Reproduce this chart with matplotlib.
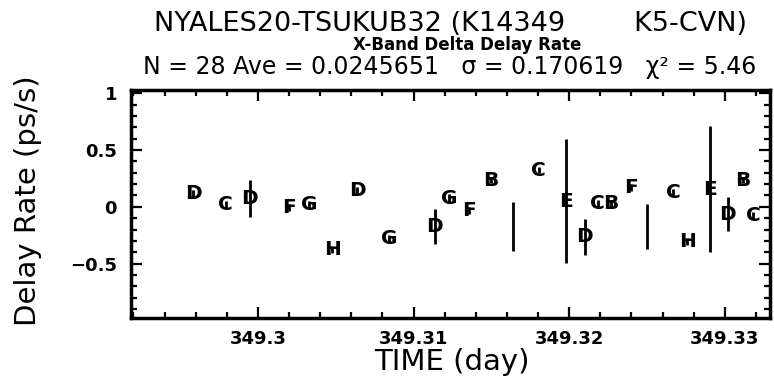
import matplotlib
matplotlib.use('Agg')
import matplotlib.pyplot as plt
from matplotlib.ticker import MultipleLocator, FuncFormatter

# observation epochs (day of year) and delta delay rates (ps/s)
times = [349.29582, 349.29792, 349.29947, 349.30197, 349.30328, 349.30476,
         349.30636, 349.30842, 349.31136, 349.31228, 349.31356, 349.31496,
         349.31639, 349.31804, 349.31978, 349.32100, 349.32182, 349.32267,
         349.32400, 349.32500, 349.32668, 349.32758, 349.32904, 349.33017,
         349.33118, 349.33182]
rates = [0.118, 0.024, 0.074, -0.005, 0.024, -0.373,
         0.147, -0.279, -0.176, 0.074, -0.035, 0.236,
         -0.172, 0.324, 0.050, -0.265, 0.029, 0.029,
         0.168, -0.172, 0.128, -0.305, 0.155, -0.065,
         0.236, -0.075]
errors = [0.03, 0.03, 0.165, 0.03, 0.03, 0.03,
          0.03, 0.03, 0.155, 0.04, 0.03, 0.03,
          0.216, 0.03, 0.544, 0.162, 0.03, 0.03,
          0.03, 0.20, 0.03, 0.03, 0.556, 0.152,
          0.03, 0.03]
codes = ['D', 'C', 'D', 'F', 'G', 'H', 'D', 'G', 'D', 'G', 'F', 'B', '',
         'C', 'E', 'D', 'C', 'B', 'F', '', 'C', 'H', 'E', 'D', 'B', 'C']

title = 'NYALES20-TSUKUB32 (K14349        K5-CVN)'
subtitle = 'X-Band Delta Delay Rate'
stats = 'N = 28 Ave = 0.0245651   \u03c3 = 0.170619   \u03c7\u00b2 = 5.46'

W, H = 774, 385
fig = plt.figure(figsize=(W / 100, H / 100), dpi=100)
ax = fig.add_axes([131 / W, 1 - 318 / H, (770 - 131) / W, (318 - 90) / H])

ax.errorbar(times, rates, yerr=errors, fmt='none', ecolor='black',
            elinewidth=2.0, capsize=0)
for t, r, c in zip(times, rates, codes):
    ax.text(t, r, c, ha='center', va='center', fontsize=14.5,
            fontweight='bold')

ax.set_xlim(349.29184, 349.3329)
ax.set_ylim(-0.98, 1.03)

ax.xaxis.set_major_locator(MultipleLocator(0.01))
ax.xaxis.set_minor_locator(MultipleLocator(0.002))
ax.yaxis.set_major_locator(MultipleLocator(0.5))
ax.yaxis.set_minor_locator(MultipleLocator(0.1))


def fmt(v, pos):
    s = '%g' % round(v, 6)
    if s == '-0':
        s = '0'
    return s.replace('-', '\u2212')


ax.xaxis.set_major_formatter(FuncFormatter(fmt))
ax.yaxis.set_major_formatter(FuncFormatter(fmt))

ax.tick_params(which='both', direction='in', top=True, right=True,
               width=1.6, color='black')
ax.tick_params(which='major', length=8)
ax.tick_params(which='minor', length=4.5)
ax.tick_params(axis='x', pad=9)
ax.tick_params(axis='y', pad=10)
for lab in ax.get_xticklabels() + ax.get_yticklabels():
    lab.set_fontsize(13)
    lab.set_fontweight('bold')
for sp in ax.spines.values():
    sp.set_linewidth(2.5)

fig.text(451 / W, 1 - 31 / H, title, ha='center', va='baseline',
         fontsize=19.5)
fig.text(467 / W, 1 - 50 / H, subtitle, ha='center', va='baseline',
         fontsize=12, fontweight='bold')
fig.text(450 / W, 1 - 74 / H, stats, ha='center', va='baseline',
         fontsize=17)
fig.text(452 / W, 1 - 370 / H, 'TIME (day)', ha='center', va='baseline',
         fontsize=21)
fig.text(28 / W, 1 - 201 / H, 'Delay Rate (ps/s)', ha='center',
         va='center', rotation=90, fontsize=21)

fig.savefig('out.png', dpi=100)
